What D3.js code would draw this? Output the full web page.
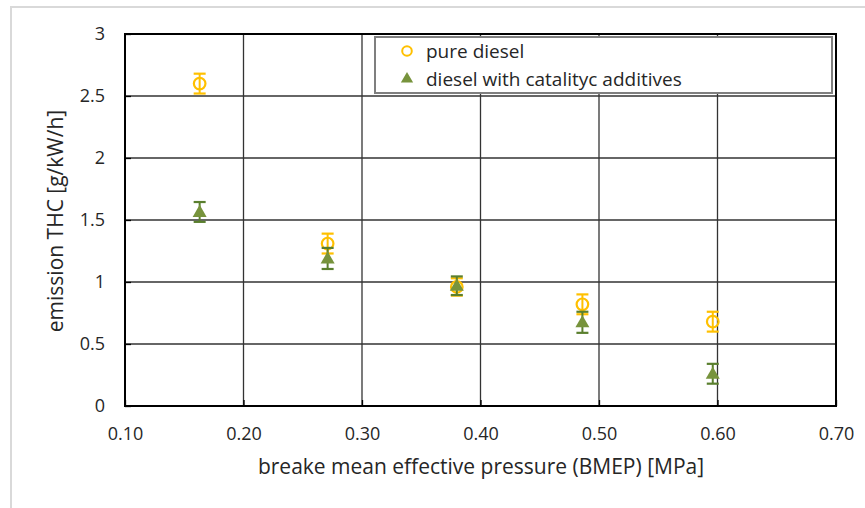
<!DOCTYPE html>
<html>
<head>
    <meta charset="UTF-8">
    <title>THC emission</title>
    <script src="https://d3js.org/d3.v7.min.js"></script>
    <style>
        body { margin: 0; background: #fff; }
        text { font-family: "Open Sans", "Noto Sans", sans-serif; fill: #262626; }
    </style>
</head>
<body>
<div id="chart"></div>
<script>
    // values
    var bmep = [0.163, 0.271, 0.380, 0.486, 0.596];
    var pureDiesel = [2.60, 1.31, 0.96, 0.82, 0.68];
    var pureErr = [0.08, 0.08, 0.07, 0.08, 0.08];
    var additives = [1.565, 1.19, 0.97, 0.675, 0.26];
    var addErr = [0.08, 0.085, 0.075, 0.085, 0.08];
    var xTicks = [0.1, 0.2, 0.3, 0.4, 0.5, 0.6, 0.7];
    var yTicks = [0, 0.5, 1, 1.5, 2, 2.5, 3];
    var seriesNames = ["pure diesel", "diesel with catalityc additives"];

    var W = 865, H = 508;
    var plotLeft = 125, plotRight = 836, plotTop = 34, plotBottom = 406;

    var svg = d3.select("#chart").append("svg")
        .attr("width", W)
        .attr("height", H);

    // light grey chart frame (right/bottom edges fall outside the picture)
    svg.append("rect")
        .attr("x", 11).attr("y", 7)
        .attr("width", 900).attr("height", 600)
        .attr("fill", "none")
        .attr("stroke", "#d9d9d9")
        .attr("stroke-width", 2);

    var x = d3.scaleLinear().domain([0.1, 0.7]).range([plotLeft, plotRight]);
    var y = d3.scaleLinear().domain([0, 3]).range([plotBottom, plotTop]);

    // gridlines
    svg.append("g")
        .selectAll("line")
        .data(yTicks)
        .enter().append("line")
            .attr("x1", plotLeft).attr("x2", plotRight)
            .attr("y1", function(d){ return y(d); })
            .attr("y2", function(d){ return y(d); })
            .attr("stroke", "#333")
            .attr("stroke-width", 1.3);

    svg.append("g")
        .selectAll("line")
        .data(xTicks)
        .enter().append("line")
            .attr("y1", plotTop).attr("y2", plotBottom)
            .attr("x1", function(d){ return x(d); })
            .attr("x2", function(d){ return x(d); })
            .attr("stroke", "#333")
            .attr("stroke-width", 1.3);

    // axes (inward ticks)
    var yAxis = d3.axisLeft(y)
        .tickValues(yTicks)
        .tickSizeInner(-6).tickSizeOuter(0)
        .tickPadding(20)
        .tickFormat(d3.format("~g"));
    var yg = svg.append("g")
        .attr("transform", "translate(" + plotLeft + ",0)")
        .call(yAxis);

    var xAxis = d3.axisBottom(x)
        .tickValues(xTicks)
        .tickSizeInner(-6).tickSizeOuter(0)
        .tickPadding(21)
        .tickFormat(d3.format(".2f"));
    var xg = svg.append("g")
        .attr("transform", "translate(0," + plotBottom + ")")
        .call(xAxis);

    [yg, xg].forEach(function(g){
        g.select(".domain").remove();
        g.selectAll(".tick line").attr("stroke", "#000").attr("stroke-width", 1.3);
        g.selectAll("text")
            .attr("font-size", "18px")
            .attr("font-family", "'Open Sans', sans-serif")
            .attr("fill", "#262626");
    });

    // plot border
    svg.append("rect")
        .attr("x", plotLeft).attr("y", plotTop)
        .attr("width", plotRight - plotLeft).attr("height", plotBottom - plotTop)
        .attr("fill", "none")
        .attr("stroke", "#000")
        .attr("stroke-width", 2);

    // error bars
    function errorBars(vals, errs, colour){
        var g = svg.append("g");
        vals.forEach(function(v, i){
            var cx = x(bmep[i]);
            var y1 = y(v + errs[i]), y2 = y(v - errs[i]);
            g.append("line")
                .attr("x1", cx).attr("x2", cx)
                .attr("y1", y1).attr("y2", y2)
                .attr("stroke", colour).attr("stroke-width", 2);
            [y1, y2].forEach(function(yy){
                g.append("line")
                    .attr("x1", cx - 6).attr("x2", cx + 6)
                    .attr("y1", yy).attr("y2", yy)
                    .attr("stroke", colour).attr("stroke-width", 2.2);
            });
        });
    }

    errorBars(pureDiesel, pureErr, "#FFC000");

    // pure diesel: open circles
    svg.append("g")
        .selectAll("circle")
        .data(pureDiesel)
        .enter().append("circle")
            .attr("cx", function(d, i){ return x(bmep[i]); })
            .attr("cy", function(d){ return y(d); })
            .attr("r", 5.8)
            .attr("fill", "none")
            .attr("stroke", "#FFC000")
            .attr("stroke-width", 2.2);

    errorBars(additives, addErr, "#5A7F2E");

    // additives: filled triangles
    var tri = d3.symbol().type(d3.symbolTriangle).size(85);
    svg.append("g")
        .selectAll("path")
        .data(additives)
        .enter().append("path")
            .attr("d", tri)
            .attr("transform", function(d, i){
                return "translate(" + x(bmep[i]) + "," + (y(d) + 1) + ")";
            })
            .attr("fill", "#77933C");

    // legend
    var lg = svg.append("g");
    lg.append("rect")
        .attr("x", 375).attr("y", 37)
        .attr("width", 457).attr("height", 56)
        .attr("fill", "#fff")
        .attr("stroke", "#7f7f7f")
        .attr("stroke-width", 2);
    lg.append("circle")
        .attr("cx", 407).attr("cy", 51)
        .attr("r", 4.8)
        .attr("fill", "none")
        .attr("stroke", "#FFC000")
        .attr("stroke-width", 2);
    lg.append("path")
        .attr("d", d3.symbol().type(d3.symbolTriangle).size(65))
        .attr("transform", "translate(407,79)")
        .attr("fill", "#77933C");
    lg.selectAll("text")
        .data(seriesNames)
        .enter().append("text")
            .attr("x", 426)
            .attr("y", function(d, i){ return 51 + i * 28; })
            .attr("dy", "0.35em")
            .attr("font-size", "19px")
            .text(function(d){ return d; });

    // axis titles
    svg.append("text")
        .attr("transform", "translate(56,221) rotate(-90)")
        .attr("text-anchor", "middle")
        .attr("dy", "0.35em")
        .attr("font-size", "21px")
        .text("emission THC [g/kW/h]");

    svg.append("text")
        .attr("x", 481)
        .attr("y", 467)
        .attr("text-anchor", "middle")
        .attr("dy", "0.35em")
        .attr("font-size", "21px")
        .text("breake mean effective pressure (BMEP) [MPa]");
</script>
</body>
</html>
